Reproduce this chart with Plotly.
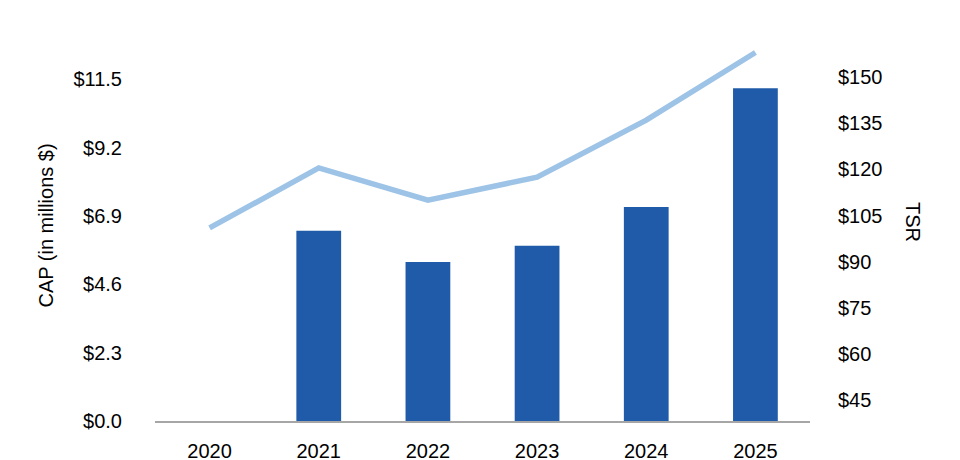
import plotly.graph_objects as go

years = ["2020", "2021", "2022", "2023", "2024", "2025"]
cap_values = [None, 6.4, 5.35, 5.9, 7.2, 11.2]
tsr_values = [101, 120.5, 110, 117.5, 136, 158]

cap_ticks = [0.0, 2.3, 4.6, 6.9, 9.2, 11.5]
cap_tick_labels = ["$0.0", "$2.3", "$4.6", "$6.9", "$9.2", "$11.5"]
tsr_ticks = [45, 60, 75, 90, 105, 120, 135, 150]
tsr_tick_labels = ["$45", "$60", "$75", "$90", "$105", "$120", "$135", "$150"]

FONT = "Liberation Sans, Arial, sans-serif"

fig = go.Figure()
fig.add_trace(go.Bar(
    x=years, y=cap_values, name="CAP",
    marker=dict(color="#1F5BA8", line=dict(width=0)),
    yaxis="y",
))
fig.add_trace(go.Scatter(
    x=years, y=tsr_values, name="TSR", mode="lines",
    line=dict(color="#9DC3E6", width=5.5),
    yaxis="y2",
))

fig.update_layout(
    template="none",
    width=960, height=460,
    margin=dict(l=147, r=158, t=22, b=47, autoexpand=False),
    paper_bgcolor="white", plot_bgcolor="white",
    showlegend=False,
    bargap=0.59,
    font=dict(family=FONT, size=20, color="#000000"),
    xaxis=dict(
        type="category", automargin=False,
        showgrid=False, zeroline=False,
        showline=True, linecolor="#A6A6A6", linewidth=2,
        ticks="outside", ticklen=11, tickcolor="rgba(0,0,0,0)",
        tickfont=dict(family=FONT, size=20, color="#000000"),
    ),
    yaxis=dict(
        range=[0, 13.16], automargin=False,
        tickvals=cap_ticks, ticktext=cap_tick_labels,
        showgrid=False, zeroline=False, showline=False,
        ticks="outside", ticklen=28, tickcolor="rgba(0,0,0,0)",
        tickfont=dict(family=FONT, size=20, color="#000000"),
    ),
    yaxis2=dict(
        range=[38.3, 165.3], automargin=False,
        overlaying="y", side="right",
        tickvals=tsr_ticks, ticktext=tsr_tick_labels,
        showgrid=False, zeroline=False, showline=False,
        ticks="outside", ticklen=23, tickcolor="rgba(0,0,0,0)",
        tickfont=dict(family=FONT, size=20, color="#000000"),
    ),
    annotations=[
        dict(text="CAP (in millions $)", xref="paper", yref="paper",
             x=-(155 - 45) / 655, y=0.5, xanchor="center", yanchor="middle",
             textangle=-90, showarrow=False,
             font=dict(family=FONT, size=20, color="#000000")),
        dict(text="TSR", xref="paper", yref="paper",
             x=1 + (913 - 810) / 655, y=(421 - 222) / 391, xanchor="center", yanchor="middle",
             textangle=90, showarrow=False,
             font=dict(family=FONT, size=20, color="#000000")),
    ],
)

fig.write_html("out.html")
